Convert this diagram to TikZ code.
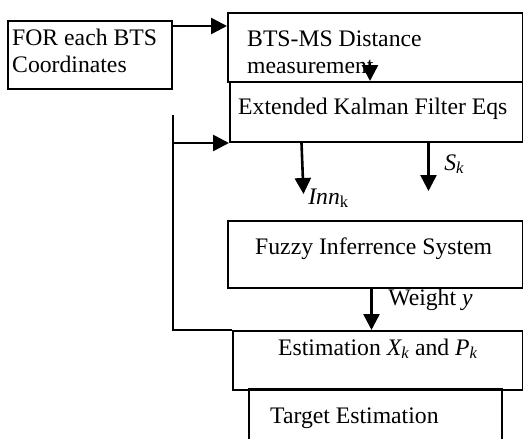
\documentclass[tikz,border=0pt]{standalone}
\usepackage{fontspec}
\setmainfont{Liberation Serif}
\usetikzlibrary{arrows.meta}

\begin{document}
\begin{tikzpicture}[x=1pt,y=-1pt,
    box/.style={draw,line width=2pt,anchor=north west,inner sep=0pt},
    txt/.style={anchor=base west,inner sep=0pt,align=left,font=\fontsize{23.7}{27}\selectfont},
    arr/.style={-{Triangle[length=16pt,width=16pt]},line width=2.6pt},
    ln/.style={line width=2pt}]
  \useasboundingbox (0,0) rectangle (523,439);
  % boxes
  \node[box,minimum width=164pt,minimum height=68pt] (coord) at (7,20) {};
  \node[box,minimum width=295pt,minimum height=69pt] (dist) at (227,12) {};
  \node[box,minimum width=293pt,minimum height=60pt] (ekf) at (229,81) {};
  \node[box,minimum width=295pt,minimum height=67pt] (fis) at (227,220) {};
  \node[box,minimum width=290pt,minimum height=59pt] (est) at (232,330) {};
  \node[anchor=north west,inner sep=0pt,minimum width=253pt,minimum height=50pt] (tgt) at (249,389) {};
  \draw[ln] (tgt.south west) -- (tgt.north west) -- (tgt.north east) -- (tgt.south east);

  % texts (base = last line)
  \node[txt] (coordtxt) at (12,72) {FOR each BTS\\Coordinates};
  \node[txt] (disttxt) at (247,73) {BTS-MS Distance\\measurement};
  \node[txt] (ekftxt) at (238,114) {Extended Kalman Filter Eqs};
  \node[txt] (fistxt) at (255,254) {Fuzzy Inferrence System};
  \node[txt] (esttxt) at (278,355) {Estimation \textit{X\textsubscript{k}} and \textit{P\textsubscript{k}}};
  \node[txt] (tgttxt) at (270,423) {Target Estimation};

  % arrows
  \draw[arr] ([yshift=-6pt]coord.north east) -- ([yshift=-6pt]coord.north east -| dist.west);
  \coordinate (meas) at (370,63);
  \draw[arr] (meas) -- (meas |- ekf.north);
  \coordinate (fb) at ([yshift=-25pt]coord.south east);
  \draw[ln] (fb) |- (est.north west);
  \draw[arr] (fb |- ekf.south) -- (ekf.south west);
  \draw[arr] ([xshift=-75pt]ekf.south) -- ++(2,51) node[txt] (inn) at (307,204) {\textit{Inn}\textsubscript{k}};
  \draw[arr] ([xshift=52pt]ekf.south) -- ++(0,48) node[txt] (sk) at (443,170) {\textit{S\textsubscript{k}}};
  \draw[arr] ([xshift=-4pt]fis.south) -- ([xshift=-4pt]fis.south |- est.north) node[txt] (wt) at (387,305) {Weight \textit{y}};
\end{tikzpicture}
\end{document}
